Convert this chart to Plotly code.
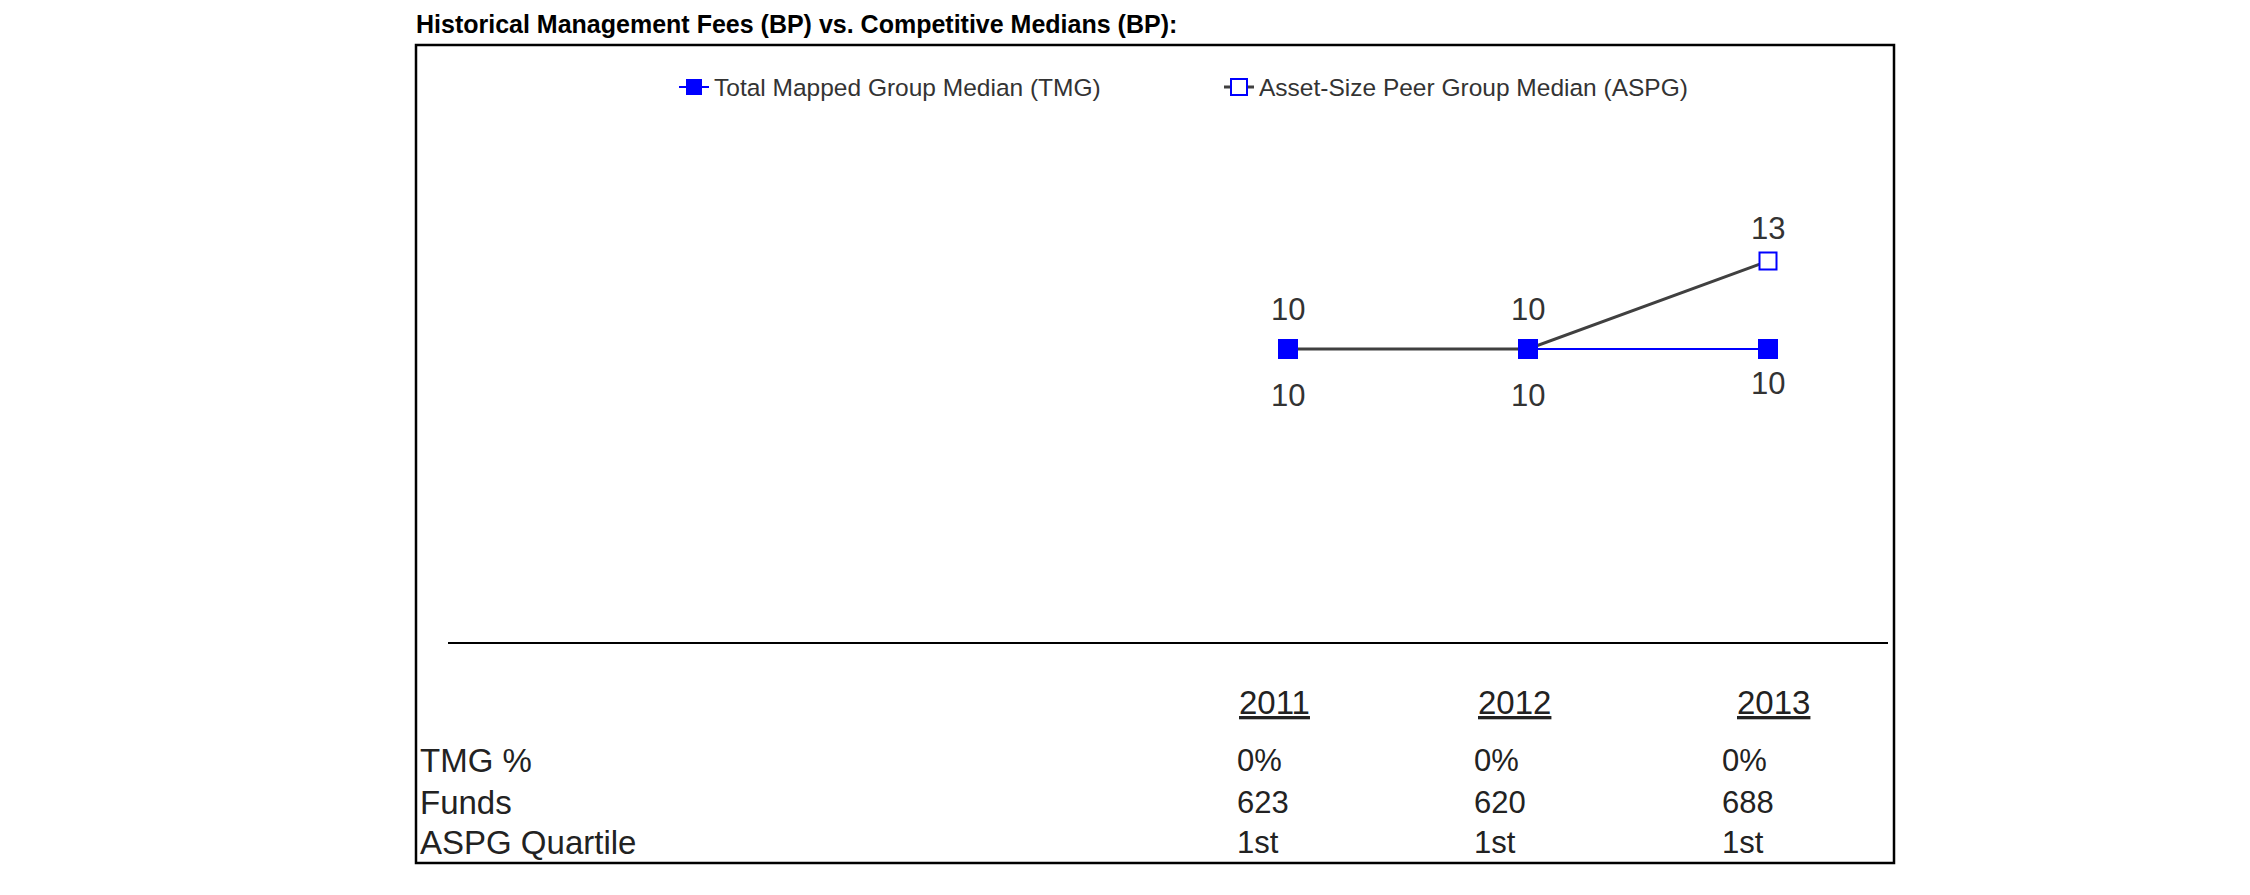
import plotly.graph_objects as go

# ---------------- data ----------------
years = [2011, 2012, 2013]
tmg_median = [10, 10, 10]
aspg_median = [10, 10, 13]
row_labels = ["TMG %", "Funds", "ASPG Quartile"]
tmg_pct = ["0%", "0%", "0%"]
funds = ["623", "620", "688"]
aspg_quartile = ["1st", "1st", "1st"]
title_text = "Historical Management Fees (BP) vs. Competitive Medians (BP):"
tmg_name = "Total Mapped Group Median (TMG)"
aspg_name = "Asset-Size Peer Group Median (ASPG)"

# ---------------- layout constants ----------------
W, H = 2250, 895
PL, PR = 440, 1880      # plot area, px
PT, PB = 48, 634
FONT = "Liberation Sans, Arial, sans-serif"
BLUE = "#0000ff"
GRAY = "#404040"
TXT = "#222222"
LBL = "#333333"

# label offsets (px) for the point labels
tmg_label_dy = [-46, -46, -34]
aspg_label_dy = [40, 40, 33]


def px_x(px):
    return (px - PL) / (PR - PL)


def px_y(py):
    return (PB - py) / (PB - PT)


fig = go.Figure()

# TMG line (underneath)
fig.add_trace(go.Scatter(
    x=years, y=tmg_median, mode="lines+markers", name=tmg_name,
    line=dict(color=BLUE, width=2),
    marker=dict(symbol="square", size=20, color=BLUE),
))
# ASPG line
fig.add_trace(go.Scatter(
    x=years, y=aspg_median, mode="lines+markers", name=aspg_name,
    line=dict(color=GRAY, width=3),
    marker=dict(symbol="square", size=17, color="white",
                line=dict(color=BLUE, width=2)),
))
# TMG markers on top
fig.add_trace(go.Scatter(
    x=years, y=tmg_median, mode="markers", showlegend=False,
    marker=dict(symbol="square", size=20, color=BLUE),
    hoverinfo="skip",
))

annotations = []
# data labels
for i, (x, v) in enumerate(zip(years, tmg_median)):
    annotations.append(dict(x=x, y=v, xref="x", yref="y", text=str(v),
                            showarrow=False, yshift=tmg_label_dy[i],
                            font=dict(family=FONT, size=31, color=LBL)))
for i, (x, v) in enumerate(zip(years, aspg_median)):
    annotations.append(dict(x=x, y=v, xref="x", yref="y", text=str(v),
                            showarrow=False, yshift=aspg_label_dy[i],
                            font=dict(family=FONT, size=31, color=LBL)))

# table below the chart
head_shift = [-14, -14, 5]
val_shift = [-53, -56, -48]
row_py = [752, 794, 835]
for i, yr in enumerate(years):
    annotations.append(dict(x=yr, y=px_y(695), xref="x", yref="paper",
                            text="<u>%d</u>" % yr, showarrow=False,
                            xanchor="center", yanchor="middle", xshift=head_shift[i],
                            font=dict(family=FONT, size=33, color=TXT)))
    for r, col in enumerate([tmg_pct, funds, aspg_quartile]):
        annotations.append(dict(x=yr, y=px_y(row_py[r]), xref="x", yref="paper",
                                text=col[i], showarrow=False,
                                xanchor="left", yanchor="middle", xshift=val_shift[i],
                                font=dict(family=FONT, size=31, color=TXT)))
for r, lab in enumerate(row_labels):
    annotations.append(dict(x=px_x(410), y=px_y(row_py[r]), xref="paper", yref="paper",
                            text=lab, showarrow=False, xanchor="left", yanchor="middle",
                            font=dict(family=FONT, size=33, color=TXT)))

# outer frame
shapes = [dict(type="rect", xref="paper", yref="paper",
               x0=px_x(408), x1=px_x(1886), y0=px_y(855), y1=px_y(37),
               line=dict(color="black", width=2.5), fillcolor="rgba(0,0,0,0)", layer="below")]

fig.update_layout(
    width=W, height=H,
    margin=dict(l=PL, r=W - PR, t=PT, b=H - PB, pad=0),
    paper_bgcolor="white", plot_bgcolor="white",
    title=dict(text="<b>%s</b>" % title_text, xref="container", yref="container",
               x=408 / W, xanchor="left", y=1 - 16 / H, yanchor="middle",
               font=dict(family=FONT, size=25, color="black")),
    xaxis=dict(range=[2007.5, 2013.5], showline=True, linecolor="black", linewidth=2,
               showgrid=False, zeroline=False, showticklabels=False, ticks="",
               fixedrange=True),
    yaxis=dict(range=[0, 20], visible=False, fixedrange=True),
    legend=dict(orientation="h", x=px_x(666), xanchor="left", y=px_y(79), yanchor="middle",
                font=dict(family=FONT, size=24.5, color=LBL),
                entrywidth=500, entrywidthmode="pixels",
                bgcolor="rgba(0,0,0,0)", itemwidth=30),
    annotations=annotations,
    shapes=shapes,
    showlegend=True,
)

fig.write_html("out.html")
